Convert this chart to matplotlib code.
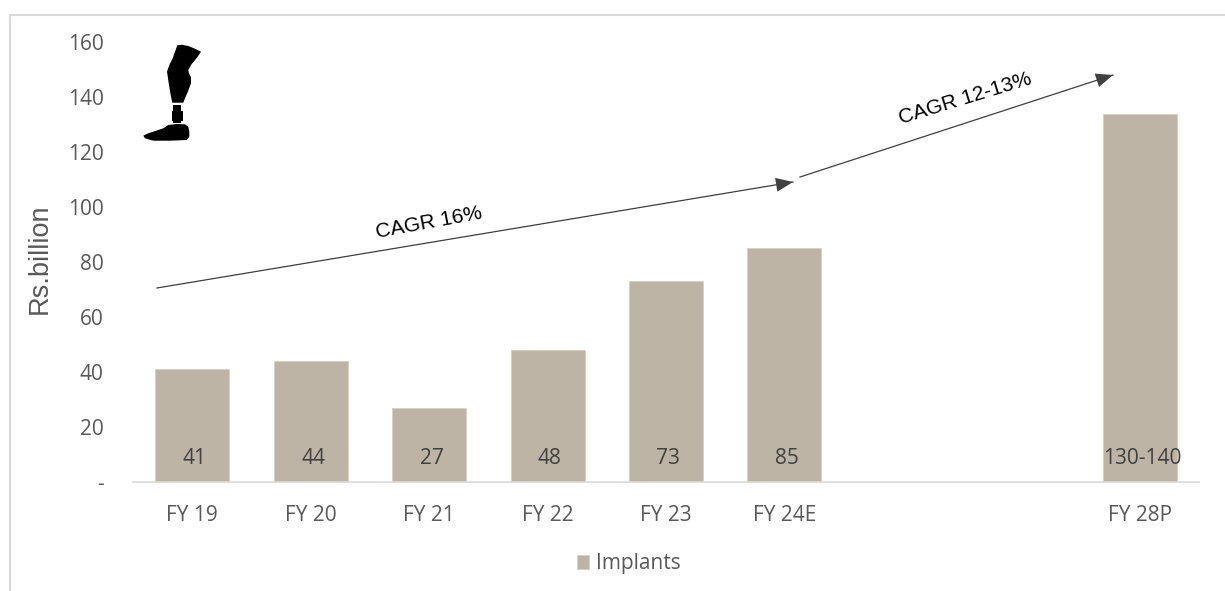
import matplotlib
matplotlib.use("Agg")
import matplotlib.pyplot as plt
from matplotlib.patches import Polygon, Rectangle
from matplotlib.transforms import Affine2D

years = ["FY 19", "FY 20", "FY 21", "FY 22", "FY 23", "FY 24E", "FY 28P"]
slots = [0, 1, 2, 3, 4, 5, 8]
implants = [41, 44, 27, 48, 73, 85, 134]
bar_labels = ["41", "44", "27", "48", "73", "85", "130-140"]
y_ticks = [0, 20, 40, 60, 80, 100, 120, 140, 160]
y_tick_labels = ["-", "20", "40", "60", "80", "100", "120", "140", "160"]

W, H = 1225, 591
BAR = "#bdb4a6"
TEXT = "#595959"
EDGE = "#d9d9d9"

plt.rcParams["font.family"] = ["Open Sans", "DejaVu Sans"]

fig = plt.figure(figsize=(W / 100, H / 100), dpi=100)
# overlay coordinates in image pixels, origin top left
px = Affine2D().scale(1 / W, -1 / H).translate(0, 1) + fig.transFigure

ax = fig.add_axes([133 / W, 1 - 482 / H, (1199 - 133) / W, (482 - 42) / H])
ax.bar(slots, implants, width=0.625, color=BAR, edgecolor="#d5cfc4", linewidth=0.6, label="Implants", zorder=2)
ax.set_xlim(-0.5, 8.5)
ax.set_ylim(0, 160)

ax.set_xticks(slots)
ax.set_xticklabels(years)
ax.set_yticks(y_ticks)
ax.set_yticklabels(y_tick_labels)
ax.tick_params(axis="both", length=0, labelsize=15, labelcolor=TEXT)
ax.tick_params(axis="x", pad=16.5)
ax.tick_params(axis="y", pad=21)

for side in ["top", "right", "left"]:
    ax.spines[side].set_visible(False)
ax.spines["bottom"].set_color(EDGE)
ax.spines["bottom"].set_linewidth(1.2)

for x, lab in zip(slots, bar_labels):
    ax.text(x + 0.02, 8.5, lab, ha="center", va="center", fontsize=15, color="#404040", zorder=3)

fig.text(39.5 / W, 1 - 259 / H, "Rs.billion", rotation=90, ha="center", va="center",
         fontsize=19.5, color=TEXT, family="Liberation Sans")

fig.legend(*ax.get_legend_handles_labels(), loc="center", bbox_to_anchor=(628.5 / W, 1 - 564 / H),
           frameon=False, fontsize=15, labelcolor=TEXT, handlelength=0.6, handleheight=0.68,
           handletextpad=0.32, borderpad=0)

# outer frame, open at right and bottom
fig.add_artist(plt.Line2D([10, 10, W], [H, 14.5, 14.5], transform=px, color=EDGE, lw=1.5))

# growth arrows
for start, end in [((157, 288), (793, 182)), ((800, 177), (1113, 75))]:
    fig.add_artist(plt.Line2D([start[0], end[0]], [start[1], end[1]], transform=px, color="#404040", lw=0.9))
    dx, dy = end[0] - start[0], end[1] - start[1]
    n = (dx ** 2 + dy ** 2) ** 0.5
    ux, uy = dx / n, dy / n
    size = 17
    half = 7
    base = (end[0] - ux * size, end[1] - uy * size)
    fig.add_artist(Polygon([end, (base[0] - uy * half, base[1] + ux * half), (base[0] + uy * half, base[1] - ux * half)],
                           transform=px, facecolor="#404040", edgecolor="none"))

fig.text(429 / W, 1 - 223 / H, "CAGR 16%", rotation=10.5, rotation_mode="anchor", ha="center", va="center",
         fontsize=15, color="black", family="Liberation Sans")
fig.text(965 / W, 1 - 99 / H, "CAGR 12-13%", rotation=17, rotation_mode="anchor", ha="center", va="center",
         fontsize=15, color="black", family="Liberation Sans")

# prosthetic leg icon
thigh = [(177.3, 45.3), (181.7, 44.7), (188.3, 46), (195, 48.7), (201, 51.7), (197.3, 57.3), (191.7, 64),
         (188.3, 70), (189, 73.3), (191, 77.3), (191, 83.3), (188.3, 90.7), (185, 98.3), (183.3, 102.7),
         (172.3, 102.7), (170.7, 95), (169, 85), (167, 71.7), (169.3, 65), (172.7, 58.3), (175, 51.7)]
foot = [(168.3, 125), (176.7, 124), (185, 124.3), (188.3, 126.7), (189.3, 131.7), (189.3, 136.7), (186.7, 140),
        (170, 140.7), (153.3, 140.7), (145, 138.3), (143.3, 135.7), (148.3, 133.3), (158.3, 130), (163.3, 128.3)]
fig.add_artist(Polygon(thigh, transform=px, facecolor="black", edgecolor="none"))
fig.add_artist(Polygon(foot, transform=px, facecolor="black", edgecolor="none"))
fig.add_artist(Rectangle((173.3, 105), 7.7, 18.3, transform=px, facecolor="black", edgecolor="none"))
fig.add_artist(Rectangle((171.7, 111), 11.6, 10, transform=px, facecolor="black", edgecolor="none"))

fig.savefig("out.png", dpi=100)
